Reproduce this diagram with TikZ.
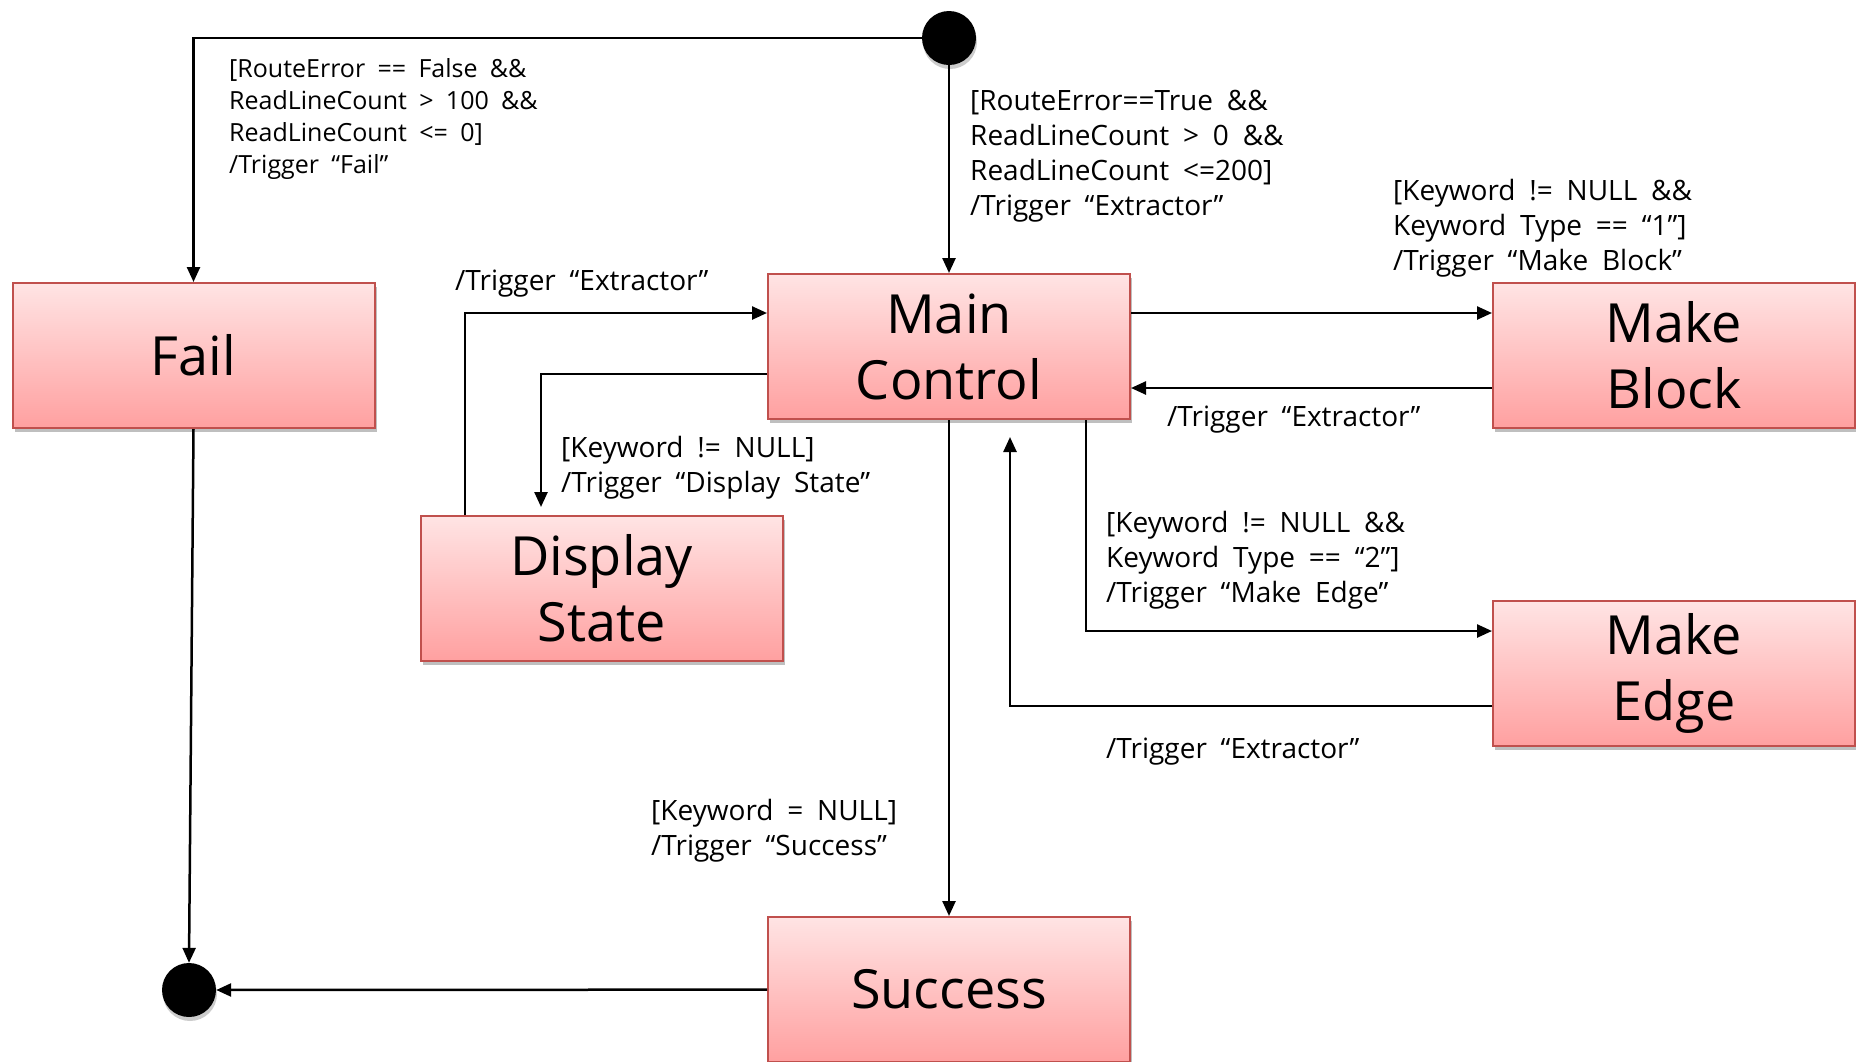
\documentclass[tikz,border=0pt]{standalone}
\usepackage{fontspec}
\setmainfont{Open Sans}[WordSpace=1.9]
\usetikzlibrary{arrows.meta,calc,shadows}
\definecolor{boxtop}{RGB}{255,228,228}
\definecolor{boxbot}{RGB}{255,160,160}
\definecolor{boxline}{RGB}{192,80,77}
\begin{document}
\begin{tikzpicture}[x=1pt,y=-1pt,
  state/.style={rectangle, draw=boxline, line width=2pt,
    top color=boxtop, bottom color=boxbot,
    minimum width=362pt, minimum height=145pt, inner sep=0pt,
    align=center, font=\fontsize{54}{66}\selectfont,
    drop shadow={shadow xshift=2pt, shadow yshift=-4pt, opacity=0.25, fill=black}},
  pseudo/.style={circle, fill=black, minimum size=54pt, inner sep=0pt,
    drop shadow={shadow xshift=1pt, shadow yshift=-4pt, opacity=0.2, fill=black}},
  flow/.style={line width=2.5pt, -{Triangle[length=15pt,width=13pt]}},
  guard/.style={anchor=north west, inner sep=0pt, align=left,
    font=\fontsize{28}{35}\selectfont},
]
\useasboundingbox (0,0) rectangle (1856,1061);

% states
\node[pseudo] (init) at (949,38) {};
\node[pseudo] (final) at (189,990) {};
\node[state] (fail) at (193.5,355.5) {Fail};
\node[state] (main) at (949,346.5) {Main\\Control};
\node[state] (disp) at (601.5,588.5) {Display\\State};
\node[state] (block) at (1674,355.5) {Make\\Block};
\node[state] (edge) at (1674,673.5) {Make\\Edge};
\node[state] (succ) at (949,989.5) {Success};

% transitions
\draw[flow] (init) -| (fail);
\draw[flow] (init) -- (main);
\draw[flow] ($(main.east)+(0,-33.5)$) -- ($(block.west)+(0,-42.5)$);
\draw[flow] ($(block.west)+(0,32.5)$) -- ($(main.east)+(0,41.5)$);
\draw[flow] ($(main.south)+(137,0)$) |- ($(edge.west)+(0,-42.5)$);
\coordinate (backtip) at ($(main.south)+(61,17)$);
\draw[flow] ($(edge.west)+(0,32.5)$) -| (backtip);
\draw[flow, shorten >=8pt] ($(main.west)+(0,27.5)$) -| ($(disp.north)+(-60.5,0)$);
\draw[flow] ($(disp.north)+(-136.5,0)$) |- ($(main.west)+(0,-33.5)$);
\draw[flow] (main) -- (succ);
\draw[flow] (succ) -- (final);
\draw[flow] (fail.south) -- (final.north);

% guards and actions
\node[guard, font=\fontsize{25}{32}\selectfont] (gfail) at (229,58)
  {[RouteError == False \&\&\\ReadLineCount > 100 \&\&\\ReadLineCount <= 0]\\/Trigger “Fail”};
\node[guard] (gmain) at (970,90)
  {[RouteError==True \&\&\\ReadLineCount > 0 \&\&\\ReadLineCount <=200]\\/Trigger “Extractor”};
\node[guard] (gblock) at (1393,179)
  {[Keyword != NULL \&\&\\Keyword Type == “1”]\\/Trigger “Make Block”};
\node[guard] (gblockback) at (1167,406) {/Trigger “Extractor”};
\node[guard] (gdispback) at (455,270) {/Trigger “Extractor”};
\node[guard] (gdisp) at (561,436) {[Keyword != NULL]\\/Trigger “Display State”};
\node[guard] (gedge) at (1106,511)
  {[Keyword != NULL \&\&\\Keyword Type == “2”]\\/Trigger “Make Edge”};
\node[guard] (gedgeback) at (1106,738) {/Trigger “Extractor”};
\node[guard] (gsucc) at (651,799) {[Keyword = NULL]\\/Trigger “Success”};
\end{tikzpicture}
\end{document}
